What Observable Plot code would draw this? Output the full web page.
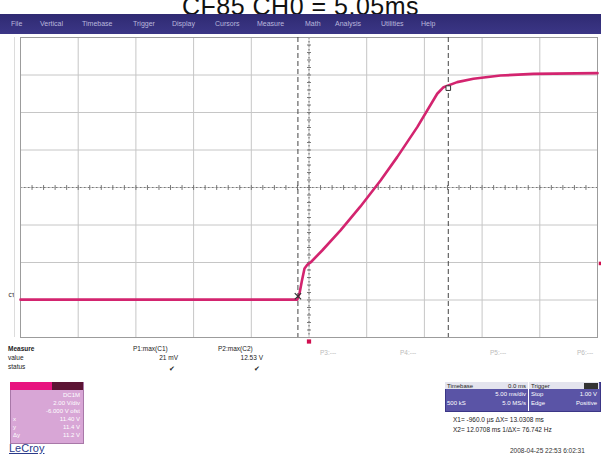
<!DOCTYPE html>
<html><head><meta charset="utf-8">
<script src="https://cdn.jsdelivr.net/npm/d3@7"></script>
<script src="https://cdn.jsdelivr.net/npm/@observablehq/plot@0.6"></script>
<style>
body{margin:0;background:#fff;font-family:"Liberation Sans",Arial,sans-serif;}
#wrap{position:relative;width:601px;height:457px;overflow:hidden;background:#fff}
.abs{position:absolute;white-space:nowrap;line-height:1}
.sm{font-size:6.5px;color:#222}
</style></head><body><div id="wrap"></div>
<script>
// ---- data ----
const title = "CF85 CH0 = 5.05ms";
const menuItems = ["File","Vertical","Timebase","Trigger","Display","Cursors","Measure","Math","Analysis","Utilities","Help"];
const menuX = [11, 40, 82, 133, 172, 215, 257, 305, 335, 381, 421];
// trace: time (ms) and voltage (V), 5 ms/div, 2 V/div
const traceTime  = [-25, -1.02, -0.82, -0.61, -0.39, -0.13, 0.13, 1.14, 2.73, 4.46, 6.2, 7.64, 9.38, 11.11, 11.66, 12.84, 14.25, 16.59, 19.45, 25];
const traceVolts = [0.02, 0.02, 0.36, 1.04, 1.68, 1.89, 2.0, 2.64, 3.71, 4.99, 6.37, 7.62, 9.22, 11.0, 11.35, 11.62, 11.8, 11.97, 12.06, 12.1];
const cursorTimes = [-0.96, 12.07];
const cursorVolts = [0.2, 11.3];
const triggerTime = [0];
const triggerLevel = [1.95];
const measureNames = ["P1:max(C1)", "P2:max(C2)"];
const measureValues = ["21 mV", "12.53 V"];
const emptyParams = ["P3:---", "P4:---", "P5:---", "P6:---"];
const chanRows = [["", "DC1M"], ["", "2.00 V/div"], ["", "-6.000 V ofst"], ["x", "11.40 V"], ["y", "11.4 V"], ["Δy", "11.2 V"]];
const cursorReadout = ["X1= -960.0 µs   ΔX= 13.0308 ms", "X2= 12.0708 ms  1/ΔX= 76.742 Hz"];
const stamp = "2008-04-25 22:53 6:02:31";

const trace = traceTime.map((t, i) => ({t, v: traceVolts[i]}));
const xDivs = d3.range(-25, 25.001, 5);
const yDivs = d3.range(-2, 14.001, 2);
const xMinor = d3.range(-25, 25.001, 1);
const yMinor = d3.range(-2, 14.001, 0.4);

const wrap = document.getElementById("wrap");

const plot = Plot.plot({
  width: 601, height: 457,
  marginLeft: 20, marginRight: 4, marginTop: 37, marginBottom: 120,
  x: {domain: [-25, 25], axis: null},
  y: {domain: [-2, 14], axis: null},
  style: {background: "transparent", overflow: "visible"},
  marks: [
    Plot.ruleX(xDivs, {stroke: "#c6c6c6", strokeWidth: 1}),
    Plot.ruleY(yDivs, {stroke: "#c6c6c6", strokeWidth: 1}),
    Plot.ruleX([0], {stroke: "#666", strokeDasharray: "1.5,2.5"}),
    Plot.ruleY([6], {stroke: "#777", strokeDasharray: "1.5,2.5"}),
    Plot.link(xMinor, {x1: d => d, x2: d => d, y1: () => 5.87, y2: () => 6.13, stroke: "#777"}),
    Plot.link(yMinor, {y1: d => d, y2: d => d, x1: () => -0.17, x2: () => 0.17, stroke: "#777"}),
    Plot.frame({stroke: "#9c9c9c"}),
    Plot.line(trace, {x: "t", y: "v", stroke: "#d3246f", strokeWidth: 2.6, strokeLinejoin: "round"}),
    Plot.ruleX(cursorTimes, {stroke: "#444", strokeDasharray: "5,3"}),
    Plot.dot([0], {x: () => cursorTimes[0], y: () => cursorVolts[0], symbol: "times", r: 3, stroke: "#333", strokeWidth: 1.2}),
    Plot.dot([0], {x: () => cursorTimes[1], y: () => cursorVolts[1], symbol: "square", r: 2.6, stroke: "#333", fill: "#fff", strokeWidth: 1}),
    Plot.dot(triggerTime, {x: d => d, y: () => -2, dy: 4, symbol: "square", r: 2.4, fill: "#d01050"}),
    Plot.dot(triggerLevel, {x: () => 25, y: d => d, dx: 3, symbol: "square", r: 2, fill: "#d01050"}),
    Plot.text(["C1"], {x: () => -25, y: () => 0, dx: -9, dy: -5, fontSize: 5, fill: "#333", stroke: "#999", strokeWidth: 0.3})
  ]
});
wrap.appendChild(plot);

function addDiv(html, css, cls) {
  const d = document.createElement("div");
  d.className = "abs " + (cls || "");
  d.innerHTML = html;
  Object.assign(d.style, css);
  wrap.appendChild(d);
  return d;
}

// title (partially cut at top)
addDiv(title, {left: "0px", width: "601px", textAlign: "center", top: "-6px", fontSize: "25px", color: "#111", letterSpacing: "0.5px"});
// menu bar
addDiv("", {left: "0px", top: "14px", width: "601px", height: "20px", background: "linear-gradient(#2f2a72,#3b3686)"});
menuItems.forEach((m, i) => addDiv(m, {left: menuX[i] + "px", top: "20px", fontSize: "7px", color: "#b9b7dc"}));
// left side strip line
addDiv("", {left: "14px", top: "37px", width: "1px", height: "300px", background: "#dcdcdc"});

// measure panel
addDiv("Measure", {left: "8px", top: "346px", fontWeight: "bold"}, "sm");
addDiv("value", {left: "8px", top: "355px"}, "sm");
addDiv("status", {left: "8px", top: "364px"}, "sm");
const mx = [133, 218];
measureNames.forEach((n, i) => {
  addDiv(n, {left: mx[i] + "px", top: "346px"}, "sm");
  addDiv(measureValues[i], {left: (mx[i] + 5) + "px", width: "40px", textAlign: "right", top: "355px"}, "sm");
  addDiv("✔", {left: (mx[i] + 36) + "px", top: "365px", fontSize: "7px"}, "sm");
});
const px = [320, 400, 490, 577];
emptyParams.forEach((p, i) => addDiv(p, {left: px[i] + "px", top: "350px", color: "#bbb"}, "sm"));

// channel descriptor box
addDiv("", {left: "10px", top: "382px", width: "72px", height: "60px", background: "#d8a6d6", border: "1px solid #a878a8"});
addDiv("", {left: "10px", top: "382px", width: "42px", height: "8px", background: "#e8137f"});
addDiv("", {left: "52px", top: "382px", width: "31px", height: "8px", background: "#5c1434"});
chanRows.forEach((r, i) => {
  addDiv(r[0], {left: "13px", top: (392 + i * 8) + "px", fontSize: "6px", color: "#fff"});
  addDiv(r[1], {left: "20px", width: "60px", textAlign: "right", top: (392 + i * 8) + "px", fontSize: "6px", color: "#fff"});
});
addDiv("LeCroy", {left: "9px", top: "443px", fontSize: "11px", color: "#2a3a8a", textDecoration: "underline"});

// timebase / trigger box
addDiv("", {left: "445px", top: "382px", width: "154px", height: "28px", background: "#5a54a6", border: "1px solid #3b3686"});
addDiv("", {left: "445px", top: "382px", width: "154px", height: "7px", background: "#e4e4ee"});
addDiv("", {left: "528px", top: "382px", width: "1px", height: "29px", background: "#fff"});
addDiv("", {left: "584px", top: "383px", width: "14px", height: "6px", background: "#333"});
addDiv("Timebase", {left: "447px", top: "383px", fontSize: "6px", color: "#222"});
addDiv("0.0 ms", {left: "490px", width: "36px", textAlign: "right", top: "383px", fontSize: "6px", color: "#222"});
addDiv("Trigger", {left: "531px", top: "383px", fontSize: "6px", color: "#222"});
addDiv("5.00 ms/div", {left: "470px", width: "56px", textAlign: "right", top: "391px", fontSize: "6px", color: "#fff"});
addDiv("500 kS", {left: "447px", top: "400px", fontSize: "6px", color: "#fff"});
addDiv("5.0 MS/s", {left: "480px", width: "46px", textAlign: "right", top: "400px", fontSize: "6px", color: "#fff"});
addDiv("Stop", {left: "531px", top: "391px", fontSize: "6px", color: "#fff"});
addDiv("1.00 V", {left: "560px", width: "37px", textAlign: "right", top: "391px", fontSize: "6px", color: "#fff"});
addDiv("Edge", {left: "531px", top: "400px", fontSize: "6px", color: "#fff"});
addDiv("Positive", {left: "560px", width: "37px", textAlign: "right", top: "400px", fontSize: "6px", color: "#fff"});
cursorReadout.forEach((t, i) => addDiv(t, {left: "453px", top: (417 + i * 10) + "px", fontSize: "6.5px", color: "#222"}));
addDiv(stamp, {left: "510px", top: "448px", fontSize: "6.5px", color: "#333"});
</script></body></html>
